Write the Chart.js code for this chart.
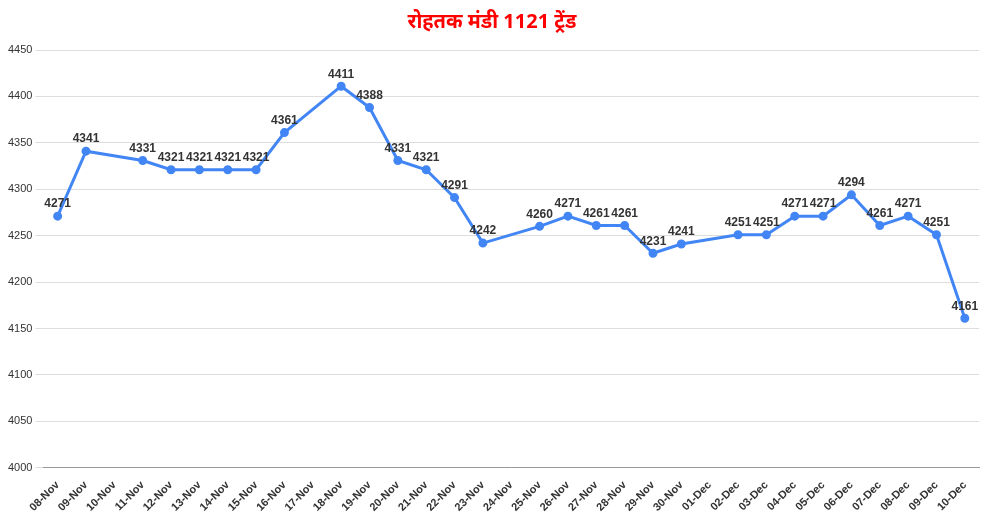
<!DOCTYPE html>
<html><head><meta charset="utf-8">
<script src="https://cdn.jsdelivr.net/npm/chart.js@4/dist/chart.umd.min.js"></script>
<style>html,body{margin:0;background:#fff}#w{width:999px;height:517px}</style>
</head><body><div id="w"><canvas id="c"></canvas></div>
<script>
const categories=["08-Nov","09-Nov","10-Nov","11-Nov","12-Nov","13-Nov","14-Nov","15-Nov","16-Nov","17-Nov","18-Nov","19-Nov","20-Nov","21-Nov","22-Nov","23-Nov","24-Nov","25-Nov","26-Nov","27-Nov","28-Nov","29-Nov","30-Nov","01-Dec","02-Dec","03-Dec","04-Dec","05-Dec","06-Dec","07-Dec","08-Dec","09-Dec","10-Dec"];
const prices=[4271,4341,null,4331,4321,4321,4321,4321,4361,null,4411,4388,4331,4321,4291,4242,null,4260,4271,4261,4261,4231,4241,null,4251,4251,4271,4271,4294,4261,4271,4251,4161];
const labelPlugin={id:'lbl',afterDatasetsDraw(ch){const ctx=ch.ctx;const m=ch.getDatasetMeta(0);ctx.save();ctx.font='bold 12px Arial, "Liberation Sans"';ctx.fillStyle='#333';ctx.textAlign='center';ctx.textBaseline='bottom';
m.data.forEach((p,i)=>{const v=prices[i];if(v==null)return;ctx.fillText(String(v),p.x,p.y-6);});ctx.restore();}};
new Chart(document.getElementById('c'),{type:'line',data:{labels:categories,datasets:[{data:prices,borderColor:'#4285f4',backgroundColor:'#4285f4',borderWidth:3,pointRadius:3,pointHoverRadius:3,spanGaps:true,tension:0}]},
options:{responsive:true,maintainAspectRatio:false,animation:false,layout:{padding:{left:5,right:20,top:2,bottom:0}},
plugins:{legend:{display:false},tooltip:{enabled:false},title:{display:true,text:'रोहतक मंडी 1121 ट्रेंड',color:'#ff0000',font:{size:20,weight:'bold',family:'"Noto Sans", Arial'},padding:{top:8,bottom:16}}},
scales:{x:{offset:true,grid:{display:false},border:{color:'#999'},ticks:{color:'#333',font:{size:11,weight:'bold',family:'Arial'},maxRotation:45,minRotation:45,autoSkip:false}},
y:{min:4000,max:4450,ticks:{stepSize:50,color:'#333',font:{size:11,family:'Arial'},callback:v=>String(v)},grid:{color:'#ddd'},border:{display:false}}}},plugins:[labelPlugin]});
</script></body></html>
